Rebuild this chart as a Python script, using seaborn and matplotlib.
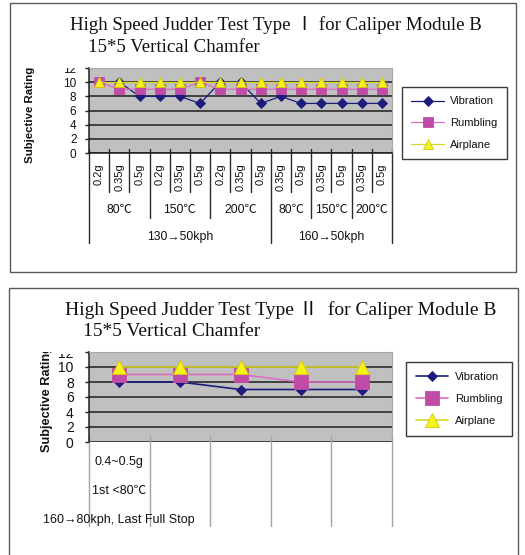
import numpy as np
import pandas as pd
import matplotlib
matplotlib.use("Agg")
import matplotlib.pyplot as plt
import matplotlib.transforms as mtransforms
from matplotlib.patches import Rectangle
import seaborn as sns

# ---------------- Type I test conditions ----------------
g_levels_1 = ["0.2g", "0.35g", "0.5g", "0.2g", "0.35g", "0.5g", "0.2g", "0.35g", "0.5g",
              "0.35g", "0.5g", "0.35g", "0.5g", "0.35g", "0.5g"]
temp_groups_1 = ["80℃", "150℃", "200℃", "80℃", "150℃", "200℃"]
temp_sizes_1 = [3, 3, 3, 2, 2, 2]
speed_groups_1 = ["130→50kph", "160→50kph"]
speed_sizes_1 = [9, 6]
vibration_1 = [10, 10, 8, 8, 8, 7, 10, 10, 7, 8, 7, 7, 7, 7, 7]
rumbling_1 = [10, 9, 9, 9, 9, 10, 9, 9, 9, 9, 9, 9, 9, 9, 9]
airplane_1 = [10, 10, 10, 10, 10, 10, 10, 10, 10, 10, 10, 10, 10, 10, 10]

# ---------------- Type II test conditions ----------------
n_runs_2 = 5
run_labels_2 = ["0.4~0.5g", "1st <80℃", "160→80kph, Last Full Stop"]
vibration_2 = [8, 8, 7, 7, 7]
rumbling_2 = [9, 9, 9, 8, 8]
airplane_2 = [10, 10, 10, 10, 10]

series_names = ["Vibration", "Rumbling", "Airplane"]
y_ticks = [0, 2, 4, 6, 8, 10, 12]

title_1 = "High Speed Judder Test Type Ⅰ for Caliper Module B"
title_2 = "High Speed Judder Test Type Ⅱ  for Caliper Module B"
subtitle = "15*5 Vertical Chamfer"
y_label = "Subjective Rating"

# ---------------- styling ----------------
sns.set_theme(style="white")
plt.rcParams["font.family"] = ["Liberation Sans", "Noto Sans CJK SC", "DejaVu Sans"]
SERIF = ["Liberation Serif", "Noto Sans CJK SC", "DejaVu Serif"]

W, H = 525, 555
fig = plt.figure(figsize=(W / 100, H / 100), dpi=100, facecolor="white")


def fx(px):
    return px / W


def fy(py):
    return 1 - py / H


styles = {
    "Vibration": dict(color="#1c1c7c", marker="D", mfc="#1c1c7c", mec="#1c1c7c"),
    "Rumbling": dict(color="#dc6cc4", marker="s", mfc="#c04ca8", mec="#c04ca8"),
    "Airplane": dict(color="#d6d624", marker="^", mfc="#f4f41c", mec="#d8c800"),
}


def long_frame(values_by_series):
    rows = []
    for name, vals in values_by_series.items():
        for i, v in enumerate(vals):
            rows.append({"series": name, "position": i, "rating": v})
    return pd.DataFrame(rows)


def draw_series(ax, df, sizes, lw):
    for name in series_names:
        st = styles[name]
        sns.lineplot(data=df[df["series"] == name], x="position", y="rating", ax=ax,
                     color=st["color"], marker=st["marker"], markersize=sizes[name],
                     markerfacecolor=st["mfc"], markeredgecolor=st["mec"],
                     markeredgewidth=0.6, linewidth=lw, label=name, legend=False)


def style_axes(ax, n, top_clip_px, tick_fs, pad):
    ax.set_facecolor("#c0c0c0")
    ax.set_xlim(-0.5, n - 0.5)
    ax.set_ylim(0, 12)
    ax.set_yticks(y_ticks)
    ax.set_yticklabels([str(t) for t in y_ticks])
    ax.yaxis.grid(True, color="#1e1e1e", linewidth=1.1)
    ax.xaxis.grid(False)
    ax.set_xlabel("")
    ax.set_ylabel("")
    ax.tick_params(axis="y", length=3, width=1, color="#1e1e1e", labelsize=tick_fs,
                   pad=pad, left=True, labelcolor="#111111")
    for side in ["top", "right"]:
        ax.spines[side].set_color("#a8a8a8")
        ax.spines[side].set_linewidth(0.8)
    ax.spines["left"].set_color("#1e1e1e")
    ax.spines["left"].set_linewidth(1.1)
    ax.spines["bottom"].set_color("#1e1e1e")
    ax.spines["bottom"].set_linewidth(1.1)
    # the top tick label is partly hidden under the title area
    clip = mtransforms.TransformedBbox(mtransforms.Bbox([[0, 0], [1, fy(top_clip_px)]]),
                                       fig.transFigure)
    for tick in ax.yaxis.get_major_ticks():
        tick.label1.set_clip_box(clip)
        tick.label1.set_clip_on(True)


def add_legend(ax, x0, y0, fs, spacing):
    leg = ax.legend(loc="upper left", bbox_to_anchor=(fx(x0), fy(y0)),
                    bbox_transform=fig.transFigure, frameon=True, fancybox=False,
                    shadow=False, fontsize=fs, handlelength=2.9, handletextpad=0.6,
                    labelspacing=spacing, borderpad=0.85, borderaxespad=0)
    fr = leg.get_frame()
    fr.set_edgecolor("#3a3a3a")
    fr.set_linewidth(1.0)
    fr.set_facecolor("white")
    fr.set_alpha(1)
    for t in leg.get_texts():
        t.set_color("#111111")
    return leg


# panel frames
fig.add_artist(Rectangle((fx(10), fy(272)), fx(516) - fx(10), fy(3) - fy(272),
                         transform=fig.transFigure, fill=False, edgecolor="#5a5a5a", lw=1.0))
fig.add_artist(Rectangle((fx(9), fy(560)), fx(518) - fx(9), fy(288) - fy(560),
                         transform=fig.transFigure, fill=False, edgecolor="#5a5a5a", lw=1.0,
                         clip_on=False))

# ================= chart 1 =================
ax1 = fig.add_axes([fx(89), fy(153), 303 / W, 85 / H])
df1 = long_frame({"Vibration": vibration_1, "Rumbling": rumbling_1, "Airplane": airplane_1})
draw_series(ax1, df1, {"Vibration": 5.3, "Rumbling": 7.0, "Airplane": 7.8}, 0.9)
n1 = len(g_levels_1)
style_axes(ax1, n1, 68, 8.5, 6)
ax1.set_xticks(np.arange(n1))
ax1.set_xticklabels(g_levels_1, rotation=90, va="top", ha="center", fontsize=8,
                    color="#111111")
ax1.tick_params(axis="x", length=0, pad=7.5, bottom=True)

blend1 = mtransforms.blended_transform_factory(ax1.transData, fig.transFigure)
line_kw = dict(transform=blend1, clip_on=False, color="#2a2a2a", lw=1.0)
bounds = np.arange(n1 + 1) - 0.5
temp_edges = np.concatenate([[0], np.cumsum(temp_sizes_1)]) - 0.5
speed_edges = np.concatenate([[0], np.cumsum(speed_sizes_1)]) - 0.5
for b in bounds:
    if b in speed_edges:
        bottom = 243
    elif b in temp_edges:
        bottom = 218
    else:
        bottom = 192
    ax1.plot([b, b], [fy(149), fy(bottom)], **line_kw)
for i, name in enumerate(temp_groups_1):
    c = (temp_edges[i] + temp_edges[i + 1]) / 2
    ax1.text(c, fy(210), name, transform=blend1, ha="center", va="center", fontsize=8.8,
             color="#111111")
for i, name in enumerate(speed_groups_1):
    c = (speed_edges[i] + speed_edges[i + 1]) / 2
    ax1.text(c, fy(237), name, transform=blend1, ha="center", va="center", fontsize=8.8,
             color="#111111")
add_legend(ax1, 402, 87, 8, 1.05)

fig.text(fx(70), fy(25), title_1, ha="left", va="center", fontsize=13.6, family=SERIF,
         color="#111111")
fig.text(fx(88), fy(47), subtitle, ha="left", va="center", fontsize=13.6, family=SERIF,
         color="#111111")
fig.text(fx(30), fy(163), y_label, rotation=90, ha="center", va="bottom", fontsize=8.2,
         fontweight="bold", color="#111111")

# ================= chart 2 =================
ax2 = fig.add_axes([fx(89), fy(442), 303 / W, 90 / H])
df2 = long_frame({"Vibration": vibration_2, "Rumbling": rumbling_2, "Airplane": airplane_2})
draw_series(ax2, df2, {"Vibration": 5.6, "Rumbling": 9.6, "Airplane": 9.4}, 1.2)
style_axes(ax2, n_runs_2, 354, 10, 8)
ax2.set_xticks([])
ax2.spines["bottom"].set_visible(False)

blend2 = mtransforms.blended_transform_factory(ax2.transData, fig.transFigure)
for b in np.arange(n_runs_2 + 1) - 0.5:
    ax2.plot([b, b], [fy(436), fy(526)], transform=blend2, clip_on=False,
             color="#a4a4a4", lw=1.0)
for text, ypx in zip(run_labels_2, [462, 491, 520]):
    ax2.text(0, fy(ypx), text, transform=blend2, ha="center", va="center", fontsize=9,
             color="#111111")
add_legend(ax2, 406, 362, 8.1, 1.1)

fig.text(fx(65), fy(310), title_2, ha="left", va="center", fontsize=14, family=SERIF,
         color="#111111")
fig.text(fx(83), fy(332), subtitle, ha="left", va="center", fontsize=14, family=SERIF,
         color="#111111")
ylab2 = fig.text(fx(47), fy(452), y_label, rotation=90, ha="center", va="bottom",
                 fontsize=9.2, fontweight="bold", color="#111111")
ylab2.set_clip_box(mtransforms.TransformedBbox(
    mtransforms.Bbox([[0, 0], [1, fy(352)]]), fig.transFigure))
ylab2.set_clip_on(True)

fig.savefig("out.png", dpi=100, facecolor="white")
